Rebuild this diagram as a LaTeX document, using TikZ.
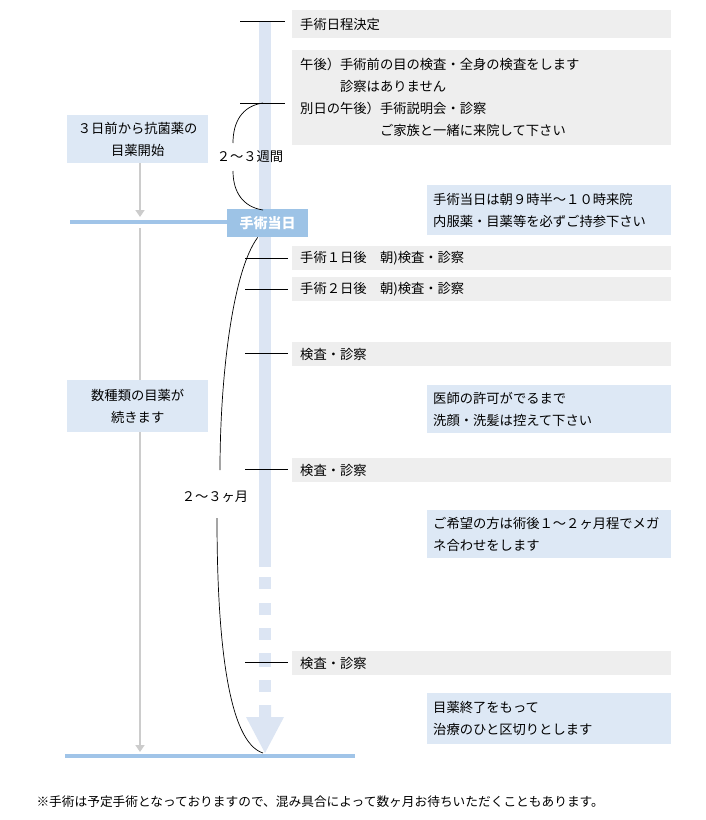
\documentclass[tikz,border=0pt]{standalone}
\usepackage{fontspec}
\setmainfont{Noto Sans CJK JP}
\usetikzlibrary{arrows.meta}
\definecolor{tlblue}{RGB}{220,229,243}
\definecolor{grayfill}{RGB}{238,238,238}
\definecolor{bluefill}{RGB}{221,232,245}
\definecolor{blueline}{RGB}{160,196,232}
\definecolor{dayfill}{RGB}{157,195,230}
\definecolor{arrowgray}{RGB}{204,204,204}
\tikzset{
  graybox/.style={fill=grayfill, anchor=north west, inner xsep=8pt, inner ysep=0pt, align=left, text width=#1},
  bluebox/.style={fill=bluefill, anchor=north west, inner xsep=6pt, inner ysep=0pt, align=left, text width=#1},
  leftbox/.style={fill=bluefill, anchor=north west, inner sep=0pt, align=center, minimum width=141pt},
  tick/.style={line width=0.6pt, black},
  brace/.style={line width=0.7pt, black},
  garrow/.style={draw=arrowgray, line width=2.5pt, -{Triangle[length=7pt,width=9pt]}},
  hline/.style={draw=blueline, line width=4pt},
}
\begin{document}
\begin{tikzpicture}[x=1pt,y=-1pt,font=\fontsize{13.3}{22}\selectfont]
\useasboundingbox (0,0) rectangle (706,820);
% timeline bar
\fill[tlblue] (259,22) rectangle (271,567);
\foreach \a/\b in {577/589,603/615,628/640,653/667,680/692}{
  \fill[tlblue] (259,\a) rectangle (271,\b);
}
\fill[tlblue] (259,705) -- (271,705) -- (271,717) -- (284,717) -- (265,753) -- (246,717) -- (259,717) -- cycle;

% gray boxes
\node[graybox=363pt, minimum height=28pt] (g1) at (292,10) {手術日程決定};
\node[graybox=363pt, minimum height=95pt] (g2) at (292,50) {午後）手術前の目の検査・全身の検査をします\\\phantom{午後）}診察はありません\\別日の午後）手術説明会・診察\\\phantom{別日の午後）}ご家族と一緒に来院して下さい};
\node[graybox=363pt, minimum height=24pt] (g3) at (292,246) {手術１日後　朝)検査・診察};
\node[graybox=363pt, minimum height=24pt] (g4) at (292,277) {手術２日後　朝)検査・診察};
\node[graybox=363pt, minimum height=24pt] (g5) at (292,342) {検査・診察};
\node[graybox=363pt, minimum height=24pt] (g6) at (292,458) {検査・診察};
\node[graybox=363pt, minimum height=24pt] (g7) at (292,651) {検査・診察};

% blue boxes right
\node[bluebox=232pt, minimum height=50pt] (b1) at (427,185) {手術当日は朝９時半～１０時来院\\内服薬・目薬等を必ずご持参下さい};
\node[bluebox=232pt, minimum height=48pt] (b2) at (427,385) {医師の許可がでるまで\\洗顔・洗髪は控えて下さい};
\node[bluebox=232pt, minimum height=48pt] (b3) at (427,510) {ご希望の方は術後１～２ヶ月程でメガ\\ネ合わせをします};
\node[bluebox=232pt, minimum height=51pt] (b4) at (427,693) {目薬終了をもって\\治療のひと区切りとします};

% horizontal lines
\node[fill=dayfill, text=white, font=\fontsize{14}{16}\selectfont\bfseries, minimum width=81pt, minimum height=28pt, inner sep=0pt, anchor=north west] (day) at (227,209) {手術当日};
\coordinate (dl) at (70,222);
\draw[hline] (dl) -- (dl -| day.west);
\coordinate (bl) at (65,756);
\coordinate (br) at (355,756);
\draw[hline] (bl) -- (br);

% left boxes and gray arrows
\node[leftbox, minimum height=48pt] (l1) at (67,115) {３日前から抗菌薬の\\目薬開始};
\coordinate (a1) at (140,217);
\coordinate (a2) at (140,228);
\coordinate (a3) at (140,752);
\draw[garrow] (l1.south -| a1) -- (a1);
\draw[garrow] (a2) -- (a3);
\node[leftbox, minimum height=52pt] (l2) at (67,380) {数種類の目薬が\\続きます};

% ticks
\foreach \n/\y/\xa/\xb in {t1/21/240/285, t2/103/240/285, t3/258/245/288, t4/289/245/288, t5/353/245/288, t6/469/245/288, t7/662/245/288}{
  \coordinate (\n a) at (\xa,\y);
  \coordinate (\n b) at (\xb,\y);
  \draw[tick] (\n a) -- (\n b);
}

% braces
\node (w) at (250,157) {２～３週間};
\draw[brace] (263,103) .. controls (242,106) and (233,122) .. (233,143);
\draw[brace] (233,171) .. controls (233,192) and (243,207) .. (263,210);
\node (m) at (215,497) {２～３ヶ月};
\draw[brace] (day.south) ++(-10,0) .. controls (232,272) and (220,380) .. (220,470);
\draw[brace] (217,518) .. controls (217,640) and (228,742) .. (263,753);

% footnote
\node[anchor=west, font=\fontsize{12.7}{14}\selectfont] (fn) at (33,802) {※手術は予定手術となっておりますので、混み具合によって数ヶ月お待ちいただくこともあります。};
\end{tikzpicture}
\end{document}
